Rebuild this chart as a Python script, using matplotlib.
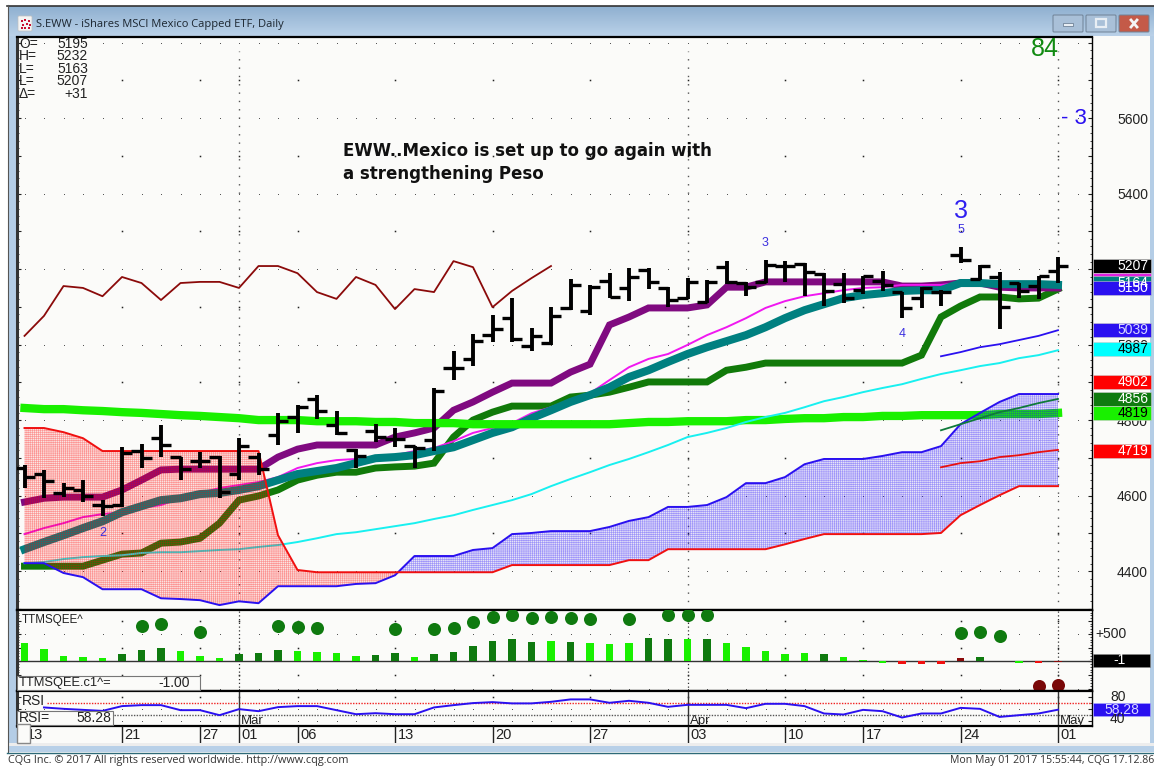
import numpy as np
import matplotlib
matplotlib.use('Agg')
import matplotlib.pyplot as plt
from matplotlib.patches import Rectangle, FancyBboxPatch
from matplotlib.ticker import MultipleLocator

plt.rcParams['font.family'] = ['Liberation Sans', 'DejaVu Sans']
plt.rcParams['hatch.linewidth'] = 0.45

W, H = 1154, 767

# OHLC bars, Feb 13 to May 01
opens = [4673, 4657, 4607, 4615, 4575, 4575, 4718, 4752, 4702, 4691, 4702, 4657, 4702,
         4760, 4808, 4856, 4787, 4721, 4771, 4750, 4731, 4747,
         4938, 4962, 5025, 5070, 4996, 5004, 5097, 5089, 5168, 5150,
         5197, 5150, 5123, 5113, 5205, 5163, 5166, 5208, 5213, 5187, 5160, 5144, 5168,
         5139, 5123, 5139, 5237, 5173, 5179, 5163, 5155, 5195]
highs = [4681, 4668, 4633, 4641, 4588, 4728, 4736, 4787, 4702, 4715, 4705, 4752, 4713,
         4819, 4840, 4866, 4824, 4723, 4789, 4779, 4731, 4885,
         4983, 5028, 5078, 5123, 5044, 5099, 5173, 5158, 5189, 5203,
         5203, 5152, 5176, 5171, 5221, 5166, 5224, 5221, 5216, 5189, 5189, 5181, 5195,
         5139, 5152, 5144, 5258, 5211, 5192, 5163, 5181, 5232]
lows = [4620, 4593, 4596, 4583, 4546, 4570, 4673, 4702, 4641, 4673, 4593, 4641, 4654,
        4734, 4766, 4803, 4760, 4673, 4742, 4728, 4673, 4718,
        4906, 4943, 5007, 5007, 4983, 4999, 5091, 5078, 5123, 5115,
        5147, 5099, 5121, 5110, 5160, 5128, 5163, 5166, 5128, 5102, 5110, 5134, 5142,
        5070, 5097, 5102, 5216, 5171, 5041, 5123, 5121, 5163]
closes = [4649, 4638, 4620, 4599, 4572, 4713, 4699, 4734, 4670, 4691, 4609, 4731, 4670,
          4797, 4834, 4824, 4766, 4705, 4755, 4750, 4726, 4877,
          4938, 5009, 5041, 5015, 5023, 5076, 5158, 5152, 5126, 5179,
          5166, 5118, 5166, 5166, 5166, 5152, 5211, 5208, 5192, 5142, 5123, 5181, 5158,
          5097, 5150, 5139, 5224, 5208, 5099, 5142, 5181, 5207]

# moving averages
ma_purple = [4583, 4593, 4596, 4596, 4596, 4615, 4641, 4668, 4670, 4670, 4670, 4670, 4670,
             4702, 4723, 4734, 4734, 4734, 4734, 4755, 4766, 4779, 4826, 4848, 4874,
             4898, 4898, 4898, 4927, 4948, 5052, 5073, 5097, 5097, 5097, 5105, 5152, 5152,
             5166, 5166, 5166, 5166, 5166, 5166, 5166, 5155, 5155, 5158, 5163, 5163,
             5152, 5150, 5150, 5150]
ma_magenta = [4498, 4514, 4527, 4543, 4551, 4556, 4567, 4575, 4593, 4607, 4620, 4628, 4636,
              4649, 4673, 4686, 4694, 4697, 4699, 4707, 4718, 4726, 4744, 4766, 4779, 4792,
              4818, 4834, 4853, 4871, 4906, 4940, 4962, 4975, 4999, 5025, 5046, 5070, 5097,
              5115, 5128, 5136, 5144, 5150, 5152, 5158, 5158, 5158, 5163, 5163,
              5160, 5160, 5160, 5160]
ma_teal = [4458, 4477, 4495, 4514, 4532, 4556, 4572, 4588, 4593, 4604, 4607, 4615, 4625,
           4641, 4657, 4665, 4673, 4686, 4699, 4702, 4707, 4718, 4728, 4747, 4766, 4781,
           4805, 4826, 4848, 4866, 4887, 4914, 4932, 4954, 4975, 4993, 5009, 5025, 5046,
           5070, 5091, 5107, 5123, 5131, 5136, 5142, 5144, 5144, 5163, 5163, 5160, 5160,
           5160, 5158]
ma_green = [4413, 4413, 4413, 4413, 4429, 4445, 4448, 4474, 4477, 4487, 4527, 4588, 4599,
            4615, 4641, 4654, 4662, 4662, 4673, 4676, 4678, 4686, 4755, 4800, 4821, 4837,
            4837, 4837, 4861, 4866, 4874, 4887, 4901, 4901, 4901, 4901, 4932, 4940, 4951,
            4951, 4951, 4951, 4951, 4951, 4951, 4951, 4972, 5073, 5102, 5126, 5126, 5121,
            5123, 5147]
ma_lime = [4832, 4829, 4829, 4826, 4824, 4821, 4819, 4816, 4813, 4811, 4808, 4805, 4800,
           4800, 4800, 4797, 4797, 4797, 4795, 4795, 4792, 4792, 4792, 4789, 4789, 4789,
           4789, 4789, 4789, 4789, 4789, 4792, 4795, 4795, 4797, 4797, 4797, 4800, 4800,
           4803, 4805, 4805, 4808, 4808, 4811, 4811, 4813, 4813, 4813, 4813, 4816, 4816,
           4816, 4819]
ma_cyan = [4421, 4424, 4432, 4437, 4440, 4442, 4448, 4450, 4450, 4453, 4456, 4458, 4464,
           4469, 4477, 4487, 4498, 4503, 4511, 4519, 4527, 4538, 4548, 4562, 4575, 4588,
           4604, 4625, 4644, 4662, 4681, 4697, 4715, 4734, 4755, 4766, 4779, 4795, 4808,
           4819, 4834, 4850, 4861, 4874, 4885, 4895, 4909, 4922, 4932, 4943, 4951, 4964,
           4972, 4985]

# cloud edges
cloud_blue = [4421, 4421, 4395, 4384, 4352, 4352, 4352, 4328, 4326, 4323, 4310, 4320, 4315,
              4360, 4360, 4360, 4360, 4366, 4368, 4389, 4440, 4440, 4440, 4456, 4461, 4498,
              4501, 4506, 4506, 4506, 4517, 4533, 4543, 4570, 4570, 4575, 4596, 4633, 4633,
              4649, 4683, 4697, 4697, 4697, 4705, 4715, 4715, 4731, 4789, 4819, 4848, 4869,
              4869, 4869]
cloud_red = [4779, 4779, 4768, 4752, 4718, 4718, 4718, 4718, 4718, 4718, 4718, 4718, 4718,
             4495, 4403, 4397, 4397, 4397, 4397, 4397, 4397, 4397, 4397, 4397, 4397, 4416,
             4416, 4416, 4416, 4416, 4416, 4429, 4429, 4458, 4458, 4458, 4458, 4458, 4458,
             4471, 4485, 4498, 4498, 4498, 4498, 4498, 4498, 4501, 4548, 4575, 4601, 4625,
             4625, 4625]

# short lines
maroon = [5023, 5076, 5155, 5150, 5128, 5179, 5163, 5118, 5163, 5166, 5166, 5150, 5208, 5208,
          5189, 5139, 5121, 5179, 5158, 5094, 5147, 5139, 5221, 5205, 5099, 5142, 5176, 5208]
tail_idx = [47, 48, 49, 50, 51, 52, 53]
tail_blue = [4969, 4980, 4993, 5001, 5012, 5023, 5038]
tail_green = [4773, 4789, 4805, 4821, 4832, 4845, 4856]
tail_red = [4675, 4686, 4691, 4702, 4707, 4715, 4721]

# TTM squeeze histogram: l = light green, d = dark green, r = red, m = maroon
ttm_values = [333, 228, 98, 80, 61, 135, 209, 240, 190, 105, 61, 135, 154, 209, 190, 172,
              154, 98, 117, 154, 80, 135, 172, 278, 370, 407, 352, 370, 352, 333, 315, 333,
              426, 407, 407, 407, 333, 259, 190, 135, 154, 135, 80, 24, -30, -45, -45, -45,
              61, 80, 13, -30, -30, -1]
ttm_state = list('lllllddd' 'llldddllll' 'dd' 'l' 'dddddd' 'ldlllddldllllldlll'
                 'rrrm' 'dd' 'l' 'r' 'm' 'r')
dot_idx = [6, 7, 9, 13, 14, 15, 19, 21, 22, 23, 24, 25, 26, 27, 28, 29, 31, 33, 34, 35, 48, 49, 50]
dot_val = [659, 696, 542, 659, 640, 622, 603, 598, 622, 733, 825, 862, 807, 825, 807, 788,
           788, 862, 862, 862, 524, 542, 468]
dot_red_idx = [52, 53]
dot_red_val = [-451, -438]

# RSI, first bar is hidden
rsi = [62, 59.7, 58, 56.3, 64.2, 65.8, 65.8, 57.5, 57.5, 49.2, 59.2, 55.8, 62.5, 64.2, 64.2,
       57.5, 50.8, 52.5, 50.8, 50.8, 62, 65.8, 69.2, 70.8, 68.7, 68.7, 71.3, 75.3, 75.3, 69.7,
       73, 69.7, 63, 66.3, 66.3, 66.3, 60.8, 68, 68, 64.2, 52, 50.3, 58, 55.8, 45.3, 52, 52,
       61.3, 59.7, 46.3, 49.2, 52, 58.28]

# date axis
date_idx = [0, 5, 9, 11, 14, 19, 24, 29, 34, 39, 43, 48, 53]
date_lbl = ['13', '21', '27', '01', '06', '13', '20', '27', '03', '10', '17', '24', '01']
month_idx = [11, 34, 53]
month_lbl = ['Mar', 'Apr', 'May']

# wave counts on the chart
wave_idx = [4, 38, 45, 48]
wave_val = [4501, 5269, 5028, 5303]
wave_lbl = ['2', '3', '4', '5']

# value boxes on the right scale
box_val = [5207, 5170, 5164, 5150, 5039, 4987, 4902, 4856, 4819, 4719]
box_lbl = ['5207', '', '5164', '5150', '5039', '4987', '4902', '4856', '4819', '4719']
box_bg = ['black', '#e020e0', '#008080', '#2a10f0', '#2a10f0', 'cyan', 'red', '#0f7a0f', '#19f000', 'red']
box_fg = ['white', 'white', 'white', 'white', '#d8d8ff', 'black', 'white', 'white', 'black', 'white']

x = np.arange(len(opens))
BG = '#fbfbf9'
PX_PER_BAR = 19.5
X0 = 24.5


def px_rect(left, top, right, bottom):
    return [left / W, 1 - bottom / H, (right - left) / W, (bottom - top) / H]


def setup_panel(ax, ylim, minor, major):
    ax.set_facecolor(BG)
    ax.set_xlim((17 - X0) / PX_PER_BAR, (1092 - X0) / PX_PER_BAR)
    ax.set_ylim(*ylim)
    ax.set_xticks([])
    ax.yaxis.set_minor_locator(MultipleLocator(minor))
    ax.yaxis.set_major_locator(MultipleLocator(major))
    ax.tick_params(axis='y', which='major', direction='in', left=True, right=True,
                   length=3, width=0.8, labelleft=False, labelright=False, color='#222222')
    ax.tick_params(axis='y', which='minor', direction='in', left=True, right=True,
                   length=1.5, width=0.7, color='#444444')
    for s in ['top', 'bottom']:
        ax.spines[s].set_linewidth(1.6)
        ax.spines[s].set_color('black')
    ax.spines['left'].set_linewidth(2.2)
    ax.spines['left'].set_color('#333333')
    ax.spines['right'].set_linewidth(1)
    ax.spines['right'].set_color('black')


def dot_rows(ax, every_bar, weekly):
    all_x = np.arange(0, 55)
    for y in every_bar:
        ax.plot(all_x, [y] * len(all_x), ls='', marker='s', ms=0.7, mew=0, color='#555555', zorder=1)
    for y in weekly:
        ax.plot(date_idx[1:], [y] * (len(date_idx) - 1), ls='', marker='s', ms=1.1, mew=0,
                color='#222222', zorder=1)


fig = plt.figure(figsize=(W / 100, H / 100), dpi=100, facecolor='white')

# window frame behind everything
bg = fig.add_axes([0, 0, 1, 1], zorder=-1)
bg.set_xlim(0, W)
bg.set_ylim(H, 0)
bg.axis('off')
grad = np.linspace(0, 1, 32)[:, None, None]
c1 = np.array([0x8f, 0xb0, 0xd0]) / 255
c2 = np.array([0xbb, 0xd2, 0xe9]) / 255
bg.imshow(c1 + (c2 - c1) * grad, extent=(8, 1154, 37, 6), aspect='auto', zorder=1)
bg.set_xlim(0, W)
bg.set_ylim(H, 0)
bg.plot([7, 1154], [5.5, 5.5], color='#333333', lw=1.2, zorder=2)
bg.plot([7.5, 7.5], [5, 752], color='#555555', lw=0.8, zorder=2)
bg.add_patch(Rectangle((8, 36), 9, 707, fc='#b4cde6', ec='none', zorder=1))
bg.add_patch(Rectangle((1092, 36), 58, 707, fc=BG, ec='none', zorder=1))
bg.add_patch(Rectangle((1150, 36), 4, 716, fc='#b4cde6', ec='none', zorder=1))
bg.add_patch(Rectangle((17, 726), 1075, 17, fc=BG, ec='none', zorder=1))
bg.add_patch(Rectangle((8, 743), 1146, 3, fc='#ededed', ec='none', zorder=1))
bg.add_patch(Rectangle((8, 746), 1146, 6, fc='#b8d0e8', ec='none', zorder=1))
bg.plot([7, 1154], [752.5, 752.5], color='#2d6a78', lw=1, zorder=2)

# main price panel
ax = fig.add_axes(px_rect(17, 37, 1092, 610))
setup_panel(ax, (4297, 5814.6), 20, 100)
dot_rows(ax, range(4400, 5900, 200), range(4500, 5800, 200))
for i in month_idx:
    ax.axvline(i, ymax=0.975, color='#555555', lw=1, ls=(0, (1, 5)), zorder=1)

ax.plot(x[:len(maroon)], maroon, color='#8b0a0a', lw=1.3, zorder=2)
ax.plot(x, ma_green, color='#117a0a', lw=5, zorder=3, solid_joinstyle='miter')
ax.plot(x, ma_purple, color='#800a80', lw=5, zorder=3.1, solid_joinstyle='miter')
ax.plot(x, ma_magenta, color='#f018f0', lw=1.4, zorder=3.2)
ax.plot(x, ma_teal, color='#008080', lw=5.8, zorder=3.3, solid_joinstyle='miter')
ax.plot(x, ma_lime, color='#19f000', lw=6, zorder=3.4)
ax.plot(x, ma_cyan, color='#18f0f0', lw=1.4, zorder=3.5)
ax.plot(tail_idx, tail_blue, color='#2a10f0', lw=1.3, zorder=3.5)
ax.plot(tail_idx, tail_green, color='#0f7a3a', lw=1.3, zorder=6)
ax.plot(tail_idx, tail_red, color='#e81010', lw=1.3, zorder=6)

# cloud, dotted fill sits on top of the averages
blue_arr = np.array(cloud_blue, dtype=float)
red_arr = np.array(cloud_red, dtype=float)
ax.fill_between(x, blue_arr, red_arr, where=red_arr >= blue_arr, interpolate=True,
                facecolor=(1, 0.1, 0.1, 0.1), edgecolor=(1, 0, 0, 0.35), hatch='+' * 8,
                lw=0, zorder=4)
ax.fill_between(x, blue_arr, red_arr, where=blue_arr >= red_arr, interpolate=True,
                facecolor=(0.2, 0.1, 0.9, 0.1), edgecolor=(0.1, 0, 1, 0.35), hatch='+' * 8,
                lw=0, zorder=4)
ax.plot(x, cloud_blue, color='#2a10f0', lw=1.4, zorder=5)
ax.plot(x, cloud_red, color='#f01010', lw=1.4, zorder=5)

# OHLC bars
ax.vlines(x, lows, highs, color='black', lw=2.8, zorder=7)
ax.hlines(opens, x - 0.52, x, color='black', lw=2.4, zorder=7)
ax.hlines(closes, x, x + 0.52, color='black', lw=2.4, zorder=7)

for i, v, t in zip(wave_idx, wave_val, wave_lbl):
    ax.text(i, v, t, color='#3b2fe0', fontsize=9, ha='center', va='center', zorder=8)

# right scale labels
yt = np.arange(4300, 5900, 100)
ax.set_yticks(yt)
ax.set_yticklabels([str(v) if v % 200 == 0 and v < 5800 else '' for v in yt])
ax.tick_params(axis='y', which='major', labelright=True, labelleft=False, pad=18,
               labelsize=10, labelcolor='#222222')
ytrans = ax.get_yaxis_transform()
box_w = 58 / 1075
box_h = 14 / 0.3775
for v, t, c, f in zip(box_val, box_lbl, box_bg, box_fg):
    ax.add_patch(Rectangle((1.0007, v - box_h / 2), box_w, box_h, transform=ytrans, fc=c, ec='#cccccc',
                           lw=0.4, clip_on=False, zorder=10))
    ax.text(1 + 41 / 1075, v, t, transform=ytrans, color=f, fontsize=10, ha='center', va='center',
            clip_on=False, zorder=11)

# TTM squeeze panel
ax2 = fig.add_axes(px_rect(17, 610, 1092, 691))
setup_panel(ax2, (-544, 949), 50, 250)
dot_rows(ax2, [500, -500], [750, 250, -250])
state_colors = {'l': '#19f000', 'd': '#0f7a0f', 'r': '#f01010', 'm': '#8b0a0a'}
ax2.axhline(0, color='#333333', lw=1, zorder=3)
ax2.bar(x, ttm_values, width=0.41, color=[state_colors[s] for s in ttm_state], zorder=4)
ax2.scatter(dot_idx, dot_val, s=88, color='#0f7a0f', zorder=5, linewidths=0)
ax2.scatter(dot_red_idx, dot_red_val, s=88, color='#7a0808', zorder=5, linewidths=0)
for i in month_idx:
    ax2.axvline(i, color='#333333', lw=0.9, ls=(0, (1, 2)), zorder=2)

# RSI panel
ax3 = fig.add_axes(px_rect(17, 691, 1092, 726))
setup_panel(ax3, (31.3, 89.2), 10, 20)
dot_rows(ax3, [60, 40], [80])
ax3.plot([1.15, 55], [70, 70], color='#f02020', lw=1, ls=(0, (1, 1)), zorder=2)
ax3.plot([4.6, 55], [50, 50], color='#555555', lw=1, ls=(0, (1, 1)), zorder=2)
ax3.plot(x[1:], rsi, color='#2a10f0', lw=1.4, zorder=3)
for i, t in zip(month_idx, month_lbl):
    ax3.axvline(i, color='#333333', lw=1, zorder=2)
    ax3.text(i + 0.12, 40, t, fontsize=9.5, color='#222222', va='center', ha='left', zorder=4)

# date row
ax4 = fig.add_axes(px_rect(17, 726, 1092, 743), zorder=1)
ax4.set_xlim(ax.get_xlim())
ax4.set_ylim(0, 1)
ax4.axis('off')
ax4.vlines(date_idx[1:], 0, 1, color='#222222', lw=1)
for i, t in zip(date_idx, date_lbl):
    ax4.text(i + 0.14, 0.47, t, fontsize=10.5, color='#222222', va='center', ha='left')

# everything written on top of the panels
ov = fig.add_axes([0, 0, 1, 1], zorder=20)
ov.set_xlim(0, W)
ov.set_ylim(H, 0)
ov.axis('off')
ov.patch.set_alpha(0)

ov.text(36, 24, 'S.EWW - iShares MSCI Mexico Capped ETF, Daily', family='Open Sans', fontsize=8.0,
        color='#1c2630', va='center')
ov.add_patch(FancyBboxPatch((19, 17), 12, 13, boxstyle='round,pad=1', fc='#f4f4f4', ec='#c0c0c0', lw=0.5))
for dx, dy in [(21, 20), (24, 19), (28, 20), (22, 24), (26, 23), (29, 24), (21, 27), (24, 27), (28, 27)]:
    ov.add_patch(Rectangle((dx, dy), 1.8, 1.8, fc='#c81030', ec='none'))

# window buttons
for left, width, fc in [(1053, 30, '#a9c0d8'), (1086, 30, '#a9c0d8'), (1119, 30, '#c45a48')]:
    ov.add_patch(FancyBboxPatch((left + 1, 16), width - 2, 15, boxstyle='round,pad=1', fc=fc, ec='#6f8296', lw=0.7))
ov.add_patch(Rectangle((1063, 23), 10, 3, fc='#e8eef4', ec='#5f7288', lw=0.5))
ov.add_patch(Rectangle((1096, 19), 10, 8, fc='none', ec='#e8eef4', lw=1.6))
ov.plot([1131, 1137], [20, 27], color='#f4f4f4', lw=2)
ov.plot([1137, 1131], [20, 27], color='#f4f4f4', lw=2)

for y, a, b in zip([44, 56, 69, 81, 94], ['O=', 'H=', 'L=', 'L=', 'Δ='], ['5195', '5232', '5163', '5207', '+31']):
    ov.text(19, y, a, fontsize=10, color='#222222', va='center')
    ov.text(88, y, b, fontsize=10, color='#222222', va='center', ha='right')

ov.text(343, 151, 'EWW..Mexico is set up to go again with', family='DejaVu Sans', fontweight='bold',
        fontsize=12, color='#111111', va='center')
ov.text(343, 174, 'a strengthening Peso', family='DejaVu Sans', fontweight='bold', fontsize=12,
        color='#111111', va='center')
ov.text(1045, 49, '84', fontsize=18, color='#118a11', ha='center', va='center')
ov.text(1074, 119, '- 3', fontsize=16, color='#2a10f0', ha='center', va='center')
ov.text(961, 211, '3', fontsize=18, color='#3020f0', ha='center', va='center')

ov.text(22, 620, 'TTMSQEE^', fontsize=8.4, color='#222222', va='center')
ov.add_patch(Rectangle((17, 676), 183, 14, fc=BG, ec='#777777', lw=0.8))
ov.text(19, 683, 'TTMSQEE.c1^=', fontsize=9.3, color='#222222', va='center')
ov.text(190, 683, '-1.00', fontsize=10, color='#222222', va='center', ha='right')
ov.text(22, 701, 'RSI', fontsize=10, color='#222222', va='center')
ov.add_patch(Rectangle((17, 711), 96, 14, fc=BG, ec='#777777', lw=0.8))
ov.text(19, 718, 'RSI=', fontsize=10, color='#222222', va='center')
ov.text(111, 718, '58.28', fontsize=10, color='#222222', va='center', ha='right')
ov.add_patch(Rectangle((17, 724), 13, 19, fc=BG, ec='#888888', lw=1))

ov.text(1095, 634, '+500', fontsize=10, color='#222222', va='center')
ov.text(1110, 697, '80', fontsize=10, color='#222222', va='center')
ov.text(1110, 719, '40', fontsize=10, color='#222222', va='center')
ov.add_patch(Rectangle((1093, 654), 57, 13, fc='black', ec='#888888', lw=0.4))
ov.text(1120, 660.5, '-1', fontsize=10, color='white', va='center', ha='center')
ov.add_patch(Rectangle((1093, 703), 57, 13, fc='#2a10f0', ec='#aaaaff', lw=0.4))
ov.text(1122, 709.5, '58.28', fontsize=10, color='#d8d8ff', va='center', ha='center')

ov.text(8, 761, 'CQG Inc. © 2017 All rights reserved worldwide. http://www.cqg.com', family='Open Sans',
        fontsize=7.8, color='#333333', va='center')
ov.text(1154, 761, 'Mon May 01 2017 15:55:44, CQG 17.12.86', family='Open Sans', fontsize=7.6,
        color='#333333', va='center', ha='right')

fig.savefig('out.png', dpi=100, facecolor='white')
